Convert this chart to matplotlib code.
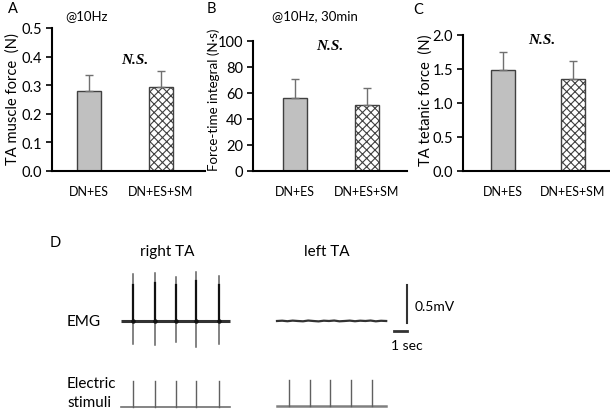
import matplotlib
matplotlib.use("Agg")
import matplotlib.pyplot as plt
import numpy as np

plt.rcParams['font.family'] = ['Lato', 'DejaVu Sans']
plt.rcParams['hatch.linewidth'] = 0.8

# ---- data ----
groups = ["DN+ES", "DN+ES+SM"]
force_10hz = [0.28, 0.293]
force_10hz_err = [0.055, 0.057]
fti_30min = [56.0, 50.5]
fti_30min_err = [15.0, 13.5]
tetanic = [1.49, 1.35]
tetanic_err = [0.26, 0.27]

# EMG traces (time in s, amplitude in mV)
right_spike_t = [0.9, 2.6, 4.2, 5.8, 7.5]
right_spike_top = [0.62, 0.63, 0.58, 0.64, 0.59]
right_spike_core = [0.47, 0.50, 0.47, 0.52, 0.48]
right_spike_bottom = [-0.30, -0.31, -0.28, -0.34, -0.30]
trace_len = 8.4
left_offset = 12.0
left_noise_t = [0.0, 0.4, 0.8, 1.2, 1.6, 2.0, 2.4, 2.8, 3.2, 3.6, 4.0, 4.4, 4.8, 5.2,
                5.6, 6.0, 6.4, 6.8, 7.2, 7.6, 8.0, 8.4]
left_noise_v = [0.0, 0.004, -0.003, 0.005, 0.0, -0.004, 0.006, 0.0, -0.005, 0.004, 0.0,
                0.006, -0.004, 0.0, 0.005, -0.003, 0.004, 0.0, 0.006, -0.004, 0.003, 0.0]
left_stim_t = [0.9, 2.5, 4.1, 5.7, 7.3]
stim_height = 0.34
stim_base = -1.13
stim_base_left = -1.12

W, H = 610, 410
fig = plt.figure(figsize=(W / 100, H / 100), dpi=100)


def px_axes(l, r, b, t):
    return fig.add_axes([l / W, 1 - b / H, (r - l) / W, (b - t) / H])


def bar_panel(ax, vals, errs, ymax, ticks, fmt, centers_px, l, r):
    upp = (centers_px[1] - centers_px[0])
    x = np.arange(len(vals))
    w = 24 / upp
    ax.bar(x[0], vals[0], width=w, color="#c0c0c0", edgecolor="#404040", linewidth=1.0)
    ax.bar(x[1], vals[1], width=w, color="white", edgecolor="#404040", hatch="xxxx", linewidth=1.0)
    ax.errorbar(x, vals, yerr=[[0, 0], errs], fmt="none", ecolor="#707070",
                elinewidth=1.0, capsize=3, capthick=1.0)
    ax.set_xlim((l - centers_px[0]) / upp, (r - centers_px[0]) / upp)
    ax.set_ylim(0, ymax)
    ax.set_yticks(ticks)
    ax.set_yticklabels([fmt.format(v) for v in ticks], fontsize=10.5)
    ax.set_xticks(x)
    ax.set_xticklabels(groups, fontsize=9)
    ax.tick_params(axis="x", length=0, pad=10)
    ax.tick_params(axis="y", length=4, width=1.2, pad=3)
    for s in ["top", "right"]:
        ax.spines[s].set_visible(False)
    for s in ["left", "bottom"]:
        ax.spines[s].set_linewidth(1.5)
    ax.patch.set_alpha(0)


axA = px_axes(52, 205, 172, 29)
bar_panel(axA, force_10hz, force_10hz_err, 0.5, [0, 0.1, 0.2, 0.3, 0.4, 0.5], "{:.1f}", [89, 160.5], 52, 205)
axB = px_axes(253, 407, 172, 42)
bar_panel(axB, fti_30min, fti_30min_err, 100, [0, 20, 40, 60, 80, 100], "{:.0f}", [295, 367], 253, 407)
axC = px_axes(463, 610, 172, 36)
bar_panel(axC, tetanic, tetanic_err, 2.0, [0, 0.5, 1.0, 1.5, 2.0], "{:.1f}", [502.5, 572.5], 463, 610)


def ftext(x, y, s, **kw):
    fig.text(x / W, 1 - y / H, s, **kw)


ftext(13, 99, "TA muscle force  (N)", rotation=90, ha="center", va="center", fontsize=10.6)
ftext(214, 100, "Force-time integral (N·s)", rotation=90, ha="center", va="center", fontsize=9.6)
ftext(426, 100, "TA tetanic force  (N)", rotation=90, ha="center", va="center", fontsize=10.6)

ftext(8, 9, "A", ha="left", va="center", fontsize=10.5)
ftext(207, 9, "B", ha="left", va="center", fontsize=10.5)
ftext(413, 10, "C", ha="left", va="center", fontsize=10.5)
ftext(65, 16, "@10Hz", ha="left", va="center", fontsize=9.5)
ftext(272, 16, "@10Hz, 30min", ha="left", va="center", fontsize=9.5)

ns_kw = dict(ha="center", va="center", fontsize=11, fontweight="bold", style="italic",
             family="Liberation Serif")
ftext(135, 60, "N.S.", **ns_kw)
ftext(330, 47, "N.S.", **ns_kw)
ftext(542, 40, "N.S.", **ns_kw)

# ---- panel D ----
pps = 13.0   # px per second
ppm = 76.0   # px per mV
t0_px, v0_px = 121, 322
axD = px_axes(0, W, 410, 225)
axD.set_xlim(-t0_px / pps, (W - t0_px) / pps)
axD.set_ylim((v0_px - 410) / ppm, (v0_px - 225) / ppm)
axD.axis("off")

# right EMG
axD.plot([0, trace_len], [0, 0], color="#333333", lw=2.2, solid_capstyle="butt")
for t, top, core, bot in zip(right_spike_t, right_spike_top, right_spike_core, right_spike_bottom):
    axD.plot([t, t], [bot, top], color="#606060", lw=1.1)
    axD.plot([t, t], [0, core], color="#111111", lw=1.6)
    axD.plot([t], [0], "o", color="#111111", ms=2.2)
# left EMG
axD.plot([left_offset + t for t in left_noise_t], left_noise_v, color="#333333", lw=1.6)

# stimuli
axD.plot([0, trace_len], [stim_base, stim_base], color="#707070", lw=1.2)
for t in right_spike_t:
    axD.plot([t, t], [stim_base, stim_base + stim_height], color="#606060", lw=1.0)
axD.plot([left_offset, left_offset + trace_len], [stim_base_left, stim_base_left], color="#808080", lw=1.8)
for t in left_stim_t:
    axD.plot([left_offset + t, left_offset + t], [stim_base_left, stim_base_left + stim_height], color="#606060", lw=1.0)

# scale bars
axD.plot([22.0, 22.0], [-0.03, 0.47], color="#333333", lw=1.5)
axD.plot([21.0, 22.0], [-0.13, -0.13], color="#333333", lw=2.0)

ftext(50, 243, "D", ha="left", va="center", fontsize=10.5)
ftext(167, 252, "right TA", ha="center", va="center", fontsize=11)
ftext(327, 252, "left TA", ha="center", va="center", fontsize=11)
ftext(67, 322, "EMG", ha="left", va="center", fontsize=11)
ftext(67, 384, "Electric", ha="left", va="center", fontsize=11)
ftext(67, 403, "stimuli", ha="left", va="center", fontsize=11)
ftext(415, 307, "0.5mV", ha="left", va="center", fontsize=10)
ftext(391, 346, "1 sec", ha="left", va="center", fontsize=10)

fig.savefig("out.png", dpi=100)
